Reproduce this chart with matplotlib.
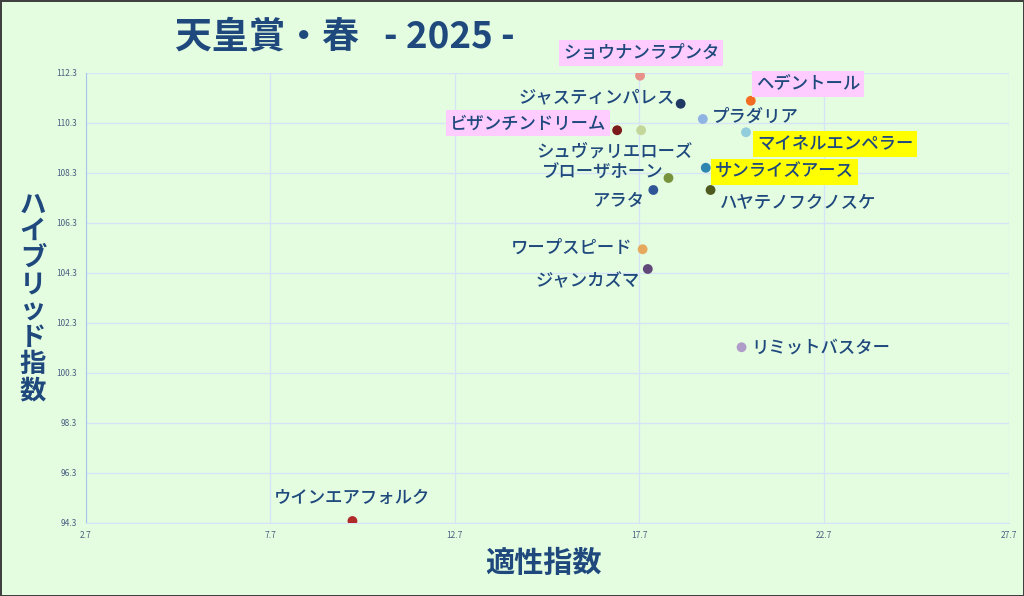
import matplotlib.pyplot as plt
from matplotlib.ticker import FixedLocator, FixedFormatter

plt.rcParams['font.family'] = ['Noto Sans CJK JP', 'DejaVu Sans']

# horse data
horses = ['ショウナンラプンタ', 'ヘデントール', 'ジャスティンパレス', 'プラダリア',
          'ビザンチンドリーム', 'シュヴァリエローズ', 'マイネルエンペラー', 'サンライズアース',
          'ブローザホーン', 'アラタ', 'ハヤテノフクノスケ', 'ワープスピード',
          'ジャンカズマ', 'リミットバスター', 'ウインエアフォルク']
aptitude = [17.72, 20.72, 18.82, 19.42, 17.10, 17.75, 20.59, 19.50,
            18.49, 18.08, 19.63, 17.79, 17.93, 20.47, 9.93]
hybrid = [112.19, 111.19, 111.07, 110.46, 110.01, 110.01, 109.93, 108.51,
          108.10, 107.62, 107.62, 105.25, 104.46, 101.33, 94.38]

x_ticks = [2.7, 7.7, 12.7, 17.7, 22.7, 27.7]
y_ticks = [94.3, 96.3, 98.3, 100.3, 102.3, 104.3, 106.3, 108.3, 110.3, 112.3]

# styling per horse
colors = ['#e8908a', '#f26d21', '#1f3864', '#8fb4e3', '#7b1a1a', '#c4d79b',
          '#92cddc', '#2e86b0', '#77933c', '#2f5597', '#4f5a20', '#e6a85c',
          '#60497a', '#b09cc8', '#b02a2a']
# label offset in pixels (dx, dy) and horizontal alignment
offsets = [(1, 23, 'center'), (5, 17, 'left'), (-6, 6, 'right'), (9, 2, 'left'),
           (-11, 7, 'right'), (52, -21, 'right'), (11, -12, 'left'), (9, -4, 'left'),
           (-5, 5, 'right'), (-8, -11, 'right'), (9, -13, 'left'), (-10, 1, 'right'),
           (-8, -12, 'right'), (10, 0, 'left'), (0, 23, 'center')]
highlight = {'ショウナンラプンタ': '#ffccff', 'ヘデントール': '#ffccff',
             'ビザンチンドリーム': '#ffccff', 'マイネルエンペラー': '#ffff00',
             'サンライズアース': '#ffff00'}

BG = '#e4fde1'
NAVY = '#1f497d'

fig = plt.figure(figsize=(10.24, 5.96), dpi=100, facecolor=BG,
                 edgecolor='#404040', linewidth=2)
ax = fig.add_axes([85.5 / 1024, 1 - 523 / 596, 923 / 1024, 450 / 596])
ax.set_facecolor(BG)

ax.scatter(aptitude, hybrid, s=50, c=colors, zorder=3, edgecolors='none')

for name, x, y, (dx, dy, ha) in zip(horses, aptitude, hybrid, offsets):
    box = None
    if name in highlight:
        box = dict(boxstyle='square,pad=0.22', fc=highlight[name], ec='none')
    ax.annotate(name, (x, y), xytext=(dx, dy), textcoords='offset pixels',
                ha=ha, va='center', fontsize=12.5, color=NAVY,
                fontweight='medium', bbox=box, zorder=4)

ax.set_xlim(2.7, 27.7)
ax.set_ylim(94.3, 112.3)
ax.xaxis.set_major_locator(FixedLocator(x_ticks))
ax.xaxis.set_major_formatter(FixedFormatter([str(v) for v in x_ticks]))
ax.yaxis.set_major_locator(FixedLocator(y_ticks))
ax.yaxis.set_major_formatter(FixedFormatter([str(v) for v in y_ticks]))
ax.tick_params(length=0, labelsize=6, labelcolor='#4a5f80', pad=6)
ax.grid(True, color='#d6e4f5', linewidth=1)
ax.set_axisbelow(True)
for side in ['top', 'right']:
    ax.spines[side].set_visible(False)
ax.spines['left'].set_color('#a9c4eb')
ax.spines['bottom'].set_color('#d6e4f5')

# titles
fig.text(175 / 1024, 1 - 37 / 596, '天皇賞・春   - 2025 -', fontsize=26.5,
         fontweight='bold', color=NAVY, ha='left', va='center')
fig.text(543 / 1024, 1 - 563 / 596, '適性指数', fontsize=21,
         fontweight='bold', color=NAVY, ha='center', va='center')
fig.text(33 / 1024, 1 - 298 / 596, '\n'.join('ハイブリッド指数'), fontsize=19,
         fontweight='bold', color=NAVY, ha='center', va='center', linespacing=0.98)

fig.savefig('out.png', dpi=100, facecolor=BG, edgecolor='#404040')
